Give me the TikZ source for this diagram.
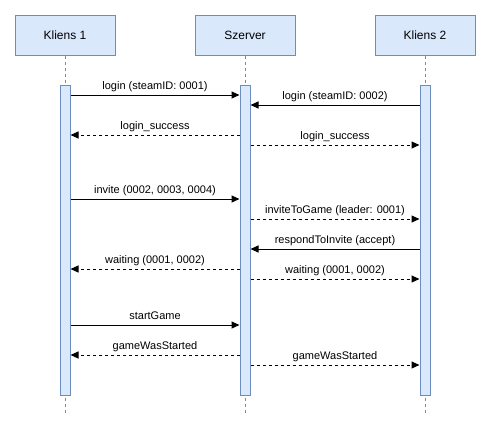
\documentclass[tikz,border=0pt]{standalone}
\usepackage{fontspec}
\setmainfont{Liberation Sans}
\usetikzlibrary{arrows.meta}
\definecolor{boxfill}{HTML}{DAE8FC}
\definecolor{boxline}{HTML}{6C8EBF}
\begin{document}
\begin{tikzpicture}[x=1pt,y=-1pt,
  header/.style={draw=boxline, fill=boxfill, line width=1pt, minimum width=100pt,
    minimum height=40pt, inner sep=0pt, font=\fontsize{12}{14}\selectfont},
  bar/.style={draw=boxline, fill=boxfill, line width=1pt, minimum width=10pt,
    minimum height=310pt, inner sep=0pt},
  lifeline/.style={draw=boxline, line width=0.8pt, dash pattern=on 3pt off 3pt},
  call/.style={-{Triangle[length=8pt,width=7pt]}, line width=1pt},
  reply/.style={call, dash pattern=on 3pt off 3pt},
  lbl/.style={font=\fontsize{11}{13}\selectfont, anchor=base, inner sep=0pt, yshift=5.5pt}]
  \useasboundingbox (0,0) rectangle (491,432);

  % participants
  \node[header] (h1) at (65,35)  {Kliens 1};
  \node[header] (h2) at (245,35) {Szerver};
  \node[header] (h3) at (425,35) {Kliens 2};

  % lifeline ends
  \coordinate (e1) at (65,413);
  \coordinate (e2) at (245,413);
  \coordinate (e3) at (425,413);

  % lifelines behind the activation bars
  \draw[lifeline] (h1.south) -- (e1);
  \draw[lifeline] (h2.south) -- (e2);
  \draw[lifeline] (h3.south) -- (e3);

  % activation bars
  \node[bar] (b1) at (65,240)  {};
  \node[bar] (b2) at (245,240) {};
  \node[bar] (b3) at (425,240) {};

  % message rows
  \foreach \n/\y in {1/95,2/105,3/135,4/145,5/199,6/219,7/249,8/269,9/279,10/325,11/355,12/365}
    \coordinate (m\n) at (0,\y);

  % messages
  \draw[call]  (b1.east |- m1)  -- node[lbl] {login (steamID: 0001)} (b2.west |- m1);
  \draw[call]  (b3.west |- m2)  -- node[lbl] {login (steamID: 0002)} (b2.east |- m2);
  \draw[reply] (b2.west |- m3)  -- node[lbl] {login\_success} (b1.east |- m3);
  \draw[reply] (b2.east |- m4)  -- node[lbl] {login\_success} (b3.west |- m4);
  \draw[call]  (b1.east |- m5)  -- node[lbl] {invite (0002, 0003, 0004)} (b2.west |- m5);
  \draw[reply] (b2.east |- m6)  -- node[lbl] {inviteToGame (leader: 0001)} (b3.west |- m6);
  \draw[call]  (b3.west |- m7)  -- node[lbl] {respondToInvite (accept)} (b2.east |- m7);
  \draw[reply] (b2.west |- m8)  -- node[lbl] {waiting (0001, 0002)} (b1.east |- m8);
  \draw[reply] (b2.east |- m9)  -- node[lbl] {waiting (0001, 0002)} (b3.west |- m9);
  \draw[call]  (b1.east |- m10) -- node[lbl] {startGame} (b2.west |- m10);
  \draw[reply] (b2.west |- m11) -- node[lbl] {gameWasStarted} (b1.east |- m11);
  \draw[reply] (b2.east |- m12) -- node[lbl] {gameWasStarted} (b3.west |- m12);
\end{tikzpicture}
\end{document}
